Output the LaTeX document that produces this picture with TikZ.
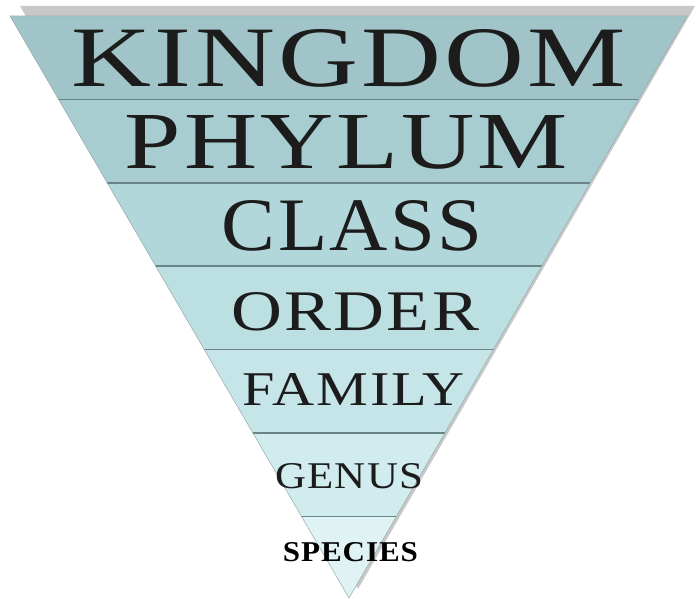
\documentclass[tikz,border=0pt]{standalone}
\usepackage{fontspec}
\setmainfont{Liberation Serif}
\newfontfamily\labfont[LetterSpace=3]{Liberation Serif}
\definecolor{shadowc}{RGB}{200,200,200}
\definecolor{bA}{RGB}{160,196,199}
\definecolor{bB}{RGB}{168,205,208}
\definecolor{bC}{RGB}{178,215,218}
\definecolor{bD}{RGB}{188,223,226}
\definecolor{bE}{RGB}{197,229,232}
\definecolor{bF}{RGB}{209,236,238}
\definecolor{bG}{RGB}{223,242,244}
\definecolor{sep}{RGB}{105,132,134}
\definecolor{txt}{RGB}{28,28,28}
\newcommand{\lab}[3]{\resizebox{#1pt}{#2pt}{\labfont #3\kern-0.03em}}
\begin{document}
\begin{tikzpicture}[x=1pt,y=-1pt,
  lab/.style={anchor=base,inner sep=0pt,text=txt},
  sepline/.style={draw=sep,line width=1.6pt},
  edge/.style={draw=sep!70,line width=0.5pt}]
\useasboundingbox (0,0) rectangle (696,599);
% shadow
\fill[shadowc] (20,6) -- (695,6) -- (358,589) -- cycle;
\begin{scope}
\clip (10,16) -- (687,16) -- (349,598) -- cycle;
\fill[bA] (0,16) rectangle (696,99.4);
\fill[bB] (0,99.4) rectangle (696,182.8);
\fill[bC] (0,182.8) rectangle (696,266.2);
\fill[bD] (0,266.2) rectangle (696,349.6);
\fill[bE] (0,349.6) rectangle (696,433);
\fill[bF] (0,433) rectangle (696,516.4);
\fill[bG] (0,516.4) rectangle (696,599);
\foreach \yy in {99.4,182.8,266.2,349.6,433,516.4}
  \draw[sepline] (0,\yy) -- (696,\yy);
\end{scope}
\draw[edge] (10,16) -- (687,16) -- (349,598) -- cycle;
% labels
\node[lab] (kingdom) at (347.5,87) {\lab{551}{57}{KINGDOM}};
\node[lab] (phylum) at (345,168) {\lab{440}{53}{PHYLUM}};
\node[lab] (class) at (351,250) {\lab{258}{50}{CLASS}};
\node[lab] (order) at (354.5,330) {\lab{245}{38}{ORDER}};
\node[lab] (family) at (353,405) {\lab{220}{32}{FAMILY}};
\node[lab] (genus) at (348.5,488) {\lab{147}{25}{GENUS}};
\node[lab,text=black] (species) at (350,561) {\lab{134}{19}{\bfseries SPECIES}};
\end{tikzpicture}
\end{document}
